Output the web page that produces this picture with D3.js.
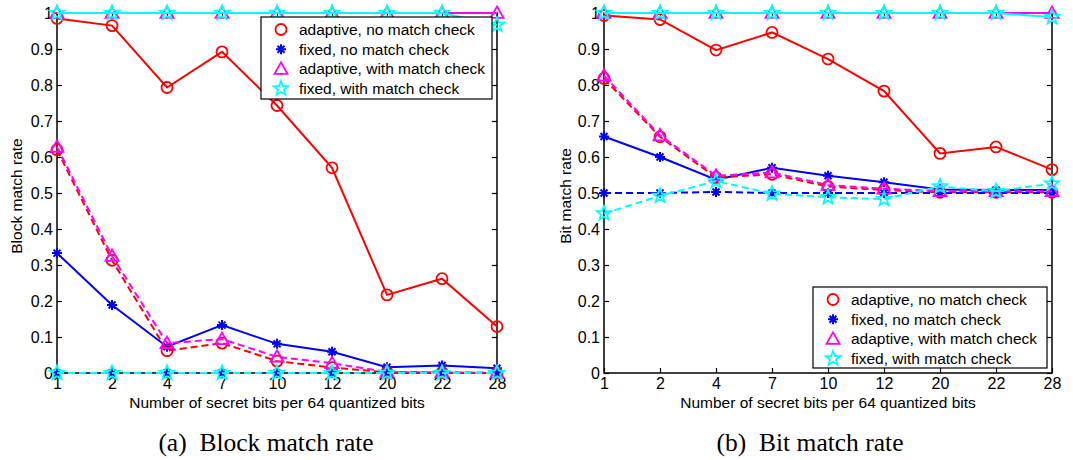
<!DOCTYPE html>
<html><head><meta charset="utf-8">
<script src="https://cdn.jsdelivr.net/npm/d3@7"></script>
<style>
html,body{margin:0;padding:0;background:#fff;}
</style></head>
<body><svg id="c" width="1073" height="460" font-family="Liberation Sans, Arial, sans-serif"></svg>
<script>
// ---------- data ----------
const xCategories = ["1","2","4","7","10","12","20","22","28"];
const yTickValues = [0,0.1,0.2,0.3,0.4,0.5,0.6,0.7,0.8,0.9,1];
const yTickLabels = ["0","0.1","0.2","0.3","0.4","0.5","0.6","0.7","0.8","0.9","1"];
const legendLabels = ["adaptive, no match check","fixed, no match check","adaptive, with match check","fixed, with match check"];

// (a) Block match rate — solid lines
const blockAdaptiveNoSolid   = [0.985,0.965,0.793,0.892,0.743,0.570,0.217,0.262,0.129];
const blockFixedNoSolid      = [0.333,0.189,0.073,0.133,0.081,0.059,0.016,0.021,0.013];
const blockAdaptiveWithSolid = [1,1,1,1,1,1,1,1,1];
const blockFixedWithSolid    = [1,1,1,1,1,1,1,1,0.967];
// (a) dashed lines
const blockAdaptiveNoDash    = [0.620,0.313,0.062,0.083,0.033,0.015,0.002,0.001,0.000];
const blockFixedNoDash       = [0,0,0,0,0,0,0,0,0];
const blockAdaptiveWithDash  = [0.628,0.325,0.083,0.094,0.045,0.027,0.003,0.002,0.001];
const blockFixedWithDash     = [0,0,0,0,0,0,0,0,0];

// (b) Bit match rate — solid lines
const bitAdaptiveNoSolid   = [0.993,0.982,0.897,0.946,0.872,0.783,0.610,0.628,0.565];
const bitFixedNoSolid      = [0.657,0.600,0.537,0.570,0.548,0.530,0.510,0.508,0.508];
const bitAdaptiveWithSolid = [1,1,1,1,1,1,1,1,1];
const bitFixedWithSolid    = [1,1,1,1,1,1,1,1,0.988];
// (b) dashed lines
const bitAdaptiveNoDash    = [0.818,0.656,0.543,0.552,0.518,0.508,0.502,0.502,0.502];
const bitFixedNoDash       = [0.500,0.500,0.503,0.500,0.500,0.500,0.500,0.500,0.500];
const bitAdaptiveWithDash  = [0.826,0.660,0.548,0.557,0.522,0.512,0.505,0.505,0.505];
const bitFixedWithDash     = [0.443,0.492,0.533,0.498,0.488,0.483,0.518,0.505,0.526];

const colors = {adaptiveNo:"#ff0000", fixedNo:"#0000ff", adaptiveWith:"#ff00ff", fixedWith:"#00ffff"};
const markers = {adaptiveNo:"circle", fixedNo:"asterisk", adaptiveWith:"triangle", fixedWith:"pentagram"};
const SANS = "Liberation Sans, Arial, sans-serif";
const SERIF = "Liberation Serif, Times New Roman, serif";

const svg = d3.select("#c");

function drawMarker(g, type, color, cx, cy){
  if(type==="circle"){
    g.append("circle").attr("cx",cx).attr("cy",cy).attr("r",5.5)
      .attr("fill","none").attr("stroke",color).attr("stroke-width",1.8);
  } else if(type==="triangle"){
    const s=6.5;
    g.append("path").attr("d",`M${cx},${cy-s} L${cx+s},${cy+s*0.75} L${cx-s},${cy+s*0.75} Z`)
      .attr("fill","none").attr("stroke",color).attr("stroke-width",1.8);
  } else if(type==="asterisk"){
    const s=5;
    const d=[[s,0],[0,s],[s*0.7,s*0.7],[s*0.7,-s*0.7]].map(([dx,dy])=>`M${cx-dx},${cy-dy} L${cx+dx},${cy+dy}`).join(" ");
    g.append("path").attr("d",d).attr("stroke",color).attr("stroke-width",2).attr("fill","none");
  } else if(type==="pentagram"){
    const R=7.5, r=3.2; let pts=[];
    for(let i=0;i<10;i++){
      const a=-Math.PI/2 + i*Math.PI/5; const rr = i%2===0?R:r;
      pts.push([cx+rr*Math.cos(a), cy+rr*Math.sin(a)]);
    }
    g.append("path").attr("d","M"+pts.map(p=>p.join(",")).join("L")+"Z")
      .attr("fill","none").attr("stroke",color).attr("stroke-width",1.8);
  }
}

function panel(cfg){
  const x = d3.scalePoint().domain(xCategories).range([cfg.x0,cfg.x1]);
  const y = d3.scaleLinear().domain([0,1]).range([cfg.y0,cfg.y1]);
  const g = svg.append("g");

  g.append("rect").attr("x",cfg.x0).attr("y",cfg.y1).attr("width",cfg.x1-cfg.x0).attr("height",cfg.y0-cfg.y1)
    .attr("fill","none").attr("stroke","#000").attr("stroke-width",1.5);

  const ax = g.append("g").attr("transform",`translate(${cfg.x0},0)`)
    .call(d3.axisLeft(y).tickValues(yTickValues).tickFormat((d,i)=>yTickLabels[i]).tickSizeInner(-5).tickSizeOuter(0).tickPadding(4));
  const ar = g.append("g").attr("transform",`translate(${cfg.x1},0)`)
    .call(d3.axisRight(y).tickValues(yTickValues).tickFormat("").tickSizeInner(-5).tickSizeOuter(0));
  const ab = g.append("g").attr("transform",`translate(0,${cfg.y0})`)
    .call(d3.axisBottom(x).tickSizeInner(-5).tickSizeOuter(0).tickPadding(5));
  const at = g.append("g").attr("transform",`translate(0,${cfg.y1})`)
    .call(d3.axisTop(x).tickFormat("").tickSizeInner(-5).tickSizeOuter(0));
  [ax,ar,ab,at].forEach(a=>{
    a.attr("font-family",SANS).attr("font-size",16);
    a.select(".domain").remove();
    a.selectAll("line").attr("stroke","#000").attr("stroke-width",1.2);
    a.selectAll("text").attr("fill","#000");
  });

  g.append("text").attr("x",(cfg.x0+cfg.x1)/2).attr("y",cfg.y0+35).attr("text-anchor","middle")
    .attr("font-family",SANS).attr("font-size",15.5).text("Number of secret bits per 64 quantized bits");
  g.append("text").attr("transform",`translate(${cfg.ylabX},${(cfg.y0+cfg.y1)/2+3}) rotate(-90)`)
    .attr("text-anchor","middle").attr("font-family",SANS).attr("font-size",15.5).text(cfg.ylabel);
  g.append("text").attr("x",cfg.capX).attr("y",451).attr("text-anchor","middle")
    .attr("font-family",SERIF).attr("font-size",25.5)
    .style("white-space","pre").text(cfg.caption);

  const line = d3.line().x((d,i)=>x(xCategories[i])).y(d=>y(d));
  cfg.series.forEach(s=>{
    const col = colors[s.key];
    g.append("path").datum(s.values).attr("d",line).attr("fill","none")
      .attr("stroke",col).attr("stroke-width",2)
      .attr("stroke-dasharray", s.dash?"7,4":null);
    const mg = g.append("g");
    s.values.forEach((v,i)=>drawMarker(mg, markers[s.key], col, x(xCategories[i]), y(v)));
  });

  const L = cfg.legend;
  g.append("rect").attr("x",L.x).attr("y",L.y).attr("width",L.w).attr("height",L.h)
    .attr("fill","#fff").attr("stroke","#000").attr("stroke-width",1.2);
  const keys = ["adaptiveNo","fixedNo","adaptiveWith","fixedWith"];
  keys.forEach((k,i)=>{
    const cy = L.y + 12.5 + i*19.7;
    drawMarker(g, markers[k], colors[k], L.x+20, cy);
    g.append("text").attr("x",L.x+38).attr("y",cy+5.5).attr("font-family",SANS).attr("font-size",15.5).attr("fill","#000").text(legendLabels[i]);
  });
}

panel({
  x0:57, x1:497, y0:373, y1:13, ylabX:22, ylabel:"Block match rate",
  caption:"(a)  Block match rate", capX:266,
  legend:{x:261,y:17,w:231,h:82},
  series:[
    {key:"adaptiveNo",values:blockAdaptiveNoSolid},
    {key:"fixedNo",values:blockFixedNoSolid},
    {key:"adaptiveWith",values:blockAdaptiveWithSolid},
    {key:"fixedWith",values:blockFixedWithSolid},
    {key:"adaptiveNo",values:blockAdaptiveNoDash,dash:true},
    {key:"fixedNo",values:blockFixedNoDash,dash:true},
    {key:"adaptiveWith",values:blockAdaptiveWithDash,dash:true},
    {key:"fixedWith",values:blockFixedWithDash,dash:true}
  ]
});
panel({
  x0:604, x1:1052, y0:373, y1:13, ylabX:571, ylabel:"Bit match rate",
  caption:"(b)  Bit match rate", capX:810,
  legend:{x:813,y:287,w:234,h:81},
  series:[
    {key:"adaptiveNo",values:bitAdaptiveNoSolid},
    {key:"fixedNo",values:bitFixedNoSolid},
    {key:"adaptiveWith",values:bitAdaptiveWithSolid},
    {key:"fixedWith",values:bitFixedWithSolid},
    {key:"adaptiveNo",values:bitAdaptiveNoDash,dash:true},
    {key:"fixedNo",values:bitFixedNoDash,dash:true},
    {key:"adaptiveWith",values:bitAdaptiveWithDash,dash:true},
    {key:"fixedWith",values:bitFixedWithDash,dash:true}
  ]
});
</script></body></html>
